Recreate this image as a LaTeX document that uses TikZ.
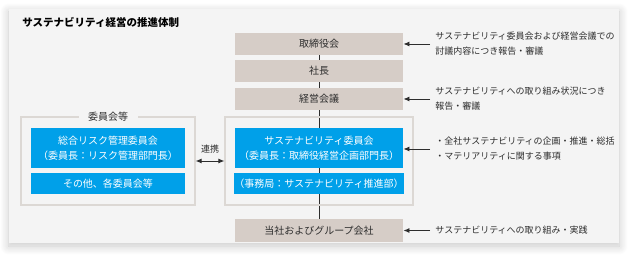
\documentclass[tikz,border=0pt]{standalone}
\usepackage{fontspec}
\setmainfont{Noto Sans CJK JP}
\usetikzlibrary{arrows.meta,positioning,backgrounds,fit,shadows.blur}

\definecolor{panelgray}{RGB}{244,244,244}
\definecolor{boxgray}{RGB}{214,205,199}
\definecolor{boxblue}{RGB}{0,160,233}
\definecolor{framegray}{RGB}{220,216,212}
\definecolor{inkgray}{RGB}{45,45,45}

\tikzset{
  orgbox/.style={fill=boxgray, text=inkgray, minimum width=168pt, minimum height=22pt,
    inner sep=0pt, font=\fontsize{10}{15}\selectfont, align=center},
  bluebox/.style={fill=boxblue, text=white, minimum height=21.6pt,
    inner sep=0pt, font=\fontsize{10}{15}\selectfont, align=center},
  groupframe/.style={draw=framegray, line width=1.2pt},
  note/.style={anchor=west, text=inkgray, inner sep=0pt, inner xsep=5pt,
    font=\fontsize{9}{15}\selectfont, align=left},
}

\begin{document}
\begin{tikzpicture}[x=1pt,y=-1pt,>={Latex[length=6pt,width=5pt]},line width=0.9pt]
\useasboundingbox (0,0) rectangle (635,261);
\node[anchor=west, inner sep=0pt, font=\fontsize{10.5}{12}\selectfont\bfseries] (title) at (22,22)
  {サステナビリティ経営の推進体制};

%centre column
\node[orgbox] (board) at (319,44) {取締役会};
\node[orgbox] (pres) at (319,71) {社長};
\node[orgbox] (mgmt) at (319,99) {経営会議};
\node[bluebox, minimum width=168pt, minimum height=40pt] (suscom) at (319,148.3)
  {サステナビリティ委員会\\（委員長：取締役経営企画部門長）};
\node[bluebox, minimum width=168pt] (office) at (319,183.5) {（事務局：サステナビリティ推進部）};
\node[orgbox, minimum height=22.4pt] (group) at (319,230.5) {当社およびグループ会社};
\node[groupframe, fit={(225,117) (413,205)}, inner sep=0pt] (susgrp) {};

%left column
\node[bluebox, minimum width=154pt, minimum height=40pt] (risk) at (108,148.3)
  {総合リスク管理委員会\\（委員長：リスク管理部門長）};
\node[bluebox, minimum width=154pt] (others) at (108,183.5) {その他、各委員会等};
\node[groupframe, fit={(21,117) (195,205)}, inner sep=0pt] (leftgrp) {};
\node[fill=panelgray, text=inkgray, inner ysep=1pt, inner xsep=9.5pt,
  font=\fontsize{10}{12}\selectfont] (leftlabel) at (leftgrp.north) {委員会等};

%panel and vertical line behind the boxes
\begin{scope}[on background layer]
  \fill[panelgray, blur shadow={shadow blur steps=12, shadow xshift=0pt, shadow yshift=-3pt,
    shadow blur radius=9pt, shadow opacity=22}] (9,9) rectangle (619,243);
  \draw[inkgray] (board.south) -- (group.north);
\end{scope}

%link
\draw[<->, inkgray] (leftgrp.east) -- (susgrp.west)
  node[midway, above=4pt, font=\fontsize{9}{11}\selectfont] (link) {連携};

%notes on the right
\node[note] (note1) at (430,44) {サステナビリティ委員会および経営会議での\\討議内容につき報告・審議};
\node[note] (note2) at (430,99) {サステナビリティへの取り組み状況につき\\報告・審議};
\node[note] (note3) at (430,149) {・全社サステナビリティの企画・推進・総括\\・マテリアリティに関する事項};
\node[note] (note4) at (430,230.5) {サステナビリティへの取り組み・実践};
\draw[->, inkgray] (note1.west) -- (board.east);
\draw[->, inkgray] (note2.west) -- (mgmt.east);
\draw[->, inkgray] (note3.west) -- (note3.west -| suscom.east);
\draw[->, inkgray] (note4.west) -- (group.east);
\end{tikzpicture}
\end{document}
